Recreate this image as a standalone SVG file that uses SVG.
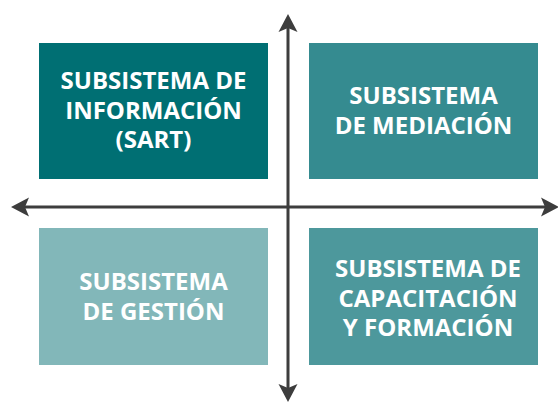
<svg xmlns="http://www.w3.org/2000/svg" width="558" height="403" viewBox="0 0 558 403">
<style>
.t{font-family:"Open Sans","Noto Sans","DejaVu Sans",sans-serif;font-weight:700;font-size:24px;fill:#ffffff;text-anchor:middle}
.ax{stroke:#3d3d3d;stroke-width:3;fill:none}
.ah{fill:#3d3d3d}
</style>
<rect width="558" height="403" fill="#ffffff"/>
<g id="n1"><rect x="39" y="43" width="229" height="136" fill="#006f73"/>
<text class="t"><tspan x="153.5" y="89">SUBSISTEMA DE</tspan><tspan x="153.5" y="119">INFORMACIÓN</tspan><tspan x="153.5" y="148">(SART)</tspan></text></g>
<g id="n2"><rect x="309" y="43" width="229" height="136" fill="#358b90"/>
<text class="t"><tspan x="423.5" y="104">SUBSISTEMA</tspan><tspan x="423.5" y="134">DE MEDIACIÓN</tspan></text></g>
<g id="n3"><rect x="39" y="228" width="229" height="137" fill="#82b7b9"/>
<text class="t"><tspan x="153.5" y="290">SUBSISTEMA</tspan><tspan x="153.5" y="320">DE GESTIÓN</tspan></text></g>
<g id="n4"><rect x="309" y="228" width="229" height="137" fill="#4d989c"/>
<text class="t"><tspan x="428" y="277">SUBSISTEMA DE</tspan><tspan x="428" y="307">CAPACITACIÓN</tspan><tspan x="428" y="336">Y FORMACIÓN</tspan></text></g>
<g id="connectors">
<line class="ax" x1="288" y1="26" x2="288" y2="390"/>
<line class="ax" x1="22" y1="207" x2="547" y2="207"/>
<path class="ah" d="M288 14 L297.5 32 L288 28 L278.5 32 Z"/>
<path class="ah" d="M288 402 L297.5 384 L288 388 L278.5 384 Z"/>
<path class="ah" d="M11 207 L29 197.5 L25 207 L29 216.5 Z"/>
<path class="ah" d="M559 207 L541 197.5 L545 207 L541 216.5 Z"/>
</g>
</svg>
